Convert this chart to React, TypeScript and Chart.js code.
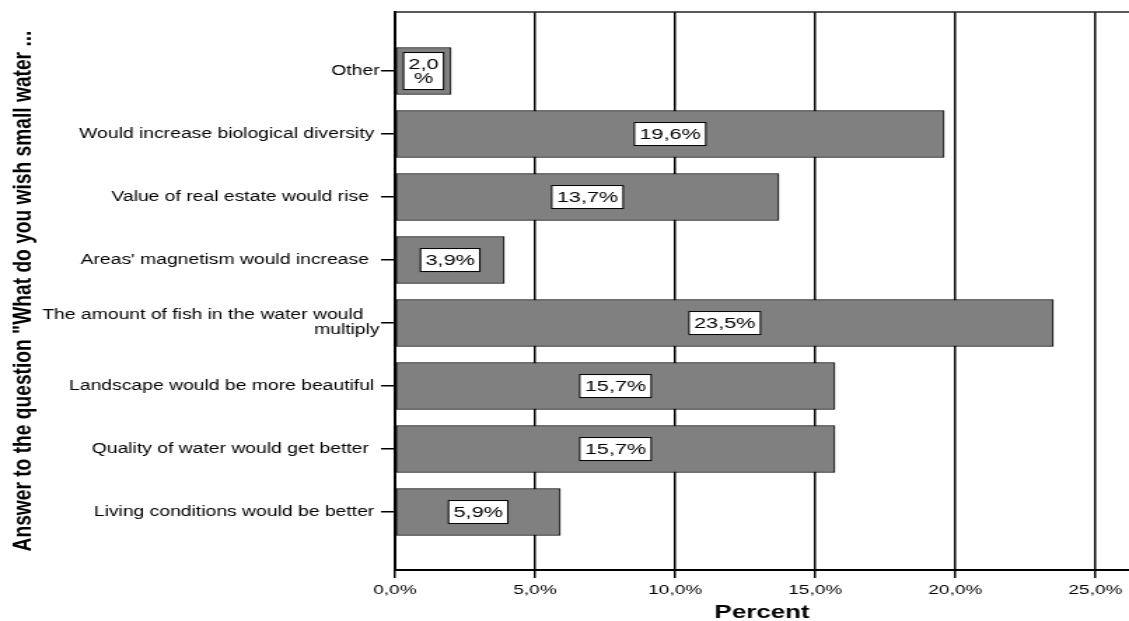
import React, { useEffect, useRef } from 'react';
import { Chart, registerables } from 'chart.js';

Chart.register(...registerables);

// ---- data ----
const categories: (string | string[])[] = [
  'Other',
  'Would increase biological diversity ',
  'Value of real estate would rise  ',
  "Areas' magnetism would increase  ",
  ['The amount of fish in the water would   ', 'multiply'],
  'Landscape would be more beautiful ',
  'Quality of water would get better  ',
  'Living conditions would be better ',
];
const values = [2.0, 19.6, 13.7, 3.9, 23.5, 15.7, 15.7, 5.9];
const xTicks = [0, 5, 10, 15, 20, 25];
const xTitle = 'Percent';
const yTitle = 'Answer to the question "What do you wish small water ...';

// ---- geometry (canvas is drawn narrow and stretched horizontally by CSS) ----
const CSS_W = 1129;
const CANVAS_W = 806;
const H = 621;

const fmt = (v: number) => v.toFixed(1).replace('.', ',');

const labelPlugin = {
  id: 'barLabels',
  afterDatasetsDraw(chart: any) {
    const ctx = chart.ctx as CanvasRenderingContext2D;
    const meta = chart.getDatasetMeta(0);
    ctx.save();
    ctx.font = '15.5px "Liberation Sans", Arial, sans-serif';
    ctx.textAlign = 'center';
    ctx.textBaseline = 'middle';
    meta.data.forEach((bar: any, i: number) => {
      const v = values[i];
      const num = fmt(v);
      const full = num + '%';
      const p = bar.getProps(['x', 'y', 'base'], true);
      const cx = (p.x + p.base) / 2;
      const cy = p.y;
      const barW = Math.abs(p.x - p.base);
      const padX = 3.5;
      const padY = 4.5;
      const lineH = 14;
      let lines = [full];
      if (ctx.measureText(full).width + 2 * padX + 4 > barW) lines = [num, '%'];
      const w = Math.max(...lines.map((l) => ctx.measureText(l).width)) + 2 * padX;
      const h = lines.length * lineH + 2 * padY;
      const x0 = cx - w / 2;
      const y0 = cy - h / 2;
      ctx.fillStyle = '#fff';
      ctx.fillRect(x0, y0, w, h);
      ctx.strokeStyle = '#000';
      ctx.lineWidth = 1;
      ctx.strokeRect(x0, y0, w, h);
      ctx.fillStyle = '#000';
      lines.forEach((l, j) => {
        ctx.fillText(l, cx, cy - ((lines.length - 1) * lineH) / 2 + j * lineH + 1);
      });
    });
    ctx.restore();
  },
};

const topBorderPlugin = {
  id: 'topBorder',
  afterDraw(chart: any) {
    const { ctx, chartArea } = chart;
    ctx.save();
    ctx.strokeStyle = '#222';
    ctx.lineWidth = 1.5;
    ctx.beginPath();
    ctx.moveTo(chartArea.left, chartArea.top);
    ctx.lineTo(chartArea.right, chartArea.top);
    ctx.stroke();
    ctx.restore();
  },
};

export default function App() {
  const ref = useRef<HTMLCanvasElement | null>(null);

  useEffect(() => {
    if (!ref.current) return;
    const chart = new Chart(ref.current, {
      type: 'bar',
      data: {
        datasets: [
          {
            data: values.map((v, i) => ({ x: v, y: i })),
            backgroundColor: '#808080',
            borderColor: '#000',
            borderWidth: 1,
            borderSkipped: false,
            barThickness: 47,
          } as any,
        ],
      },
      plugins: [labelPlugin, topBorderPlugin],
      options: {
        indexAxis: 'y',
        animation: false,
        responsive: false,
        devicePixelRatio: 1,
        layout: { padding: { top: 12, right: 0, left: 0, bottom: 0 } },
        plugins: {
          legend: { display: false },
          tooltip: { enabled: false },
        },
        scales: {
          x: {
            type: 'linear',
            min: 0,
            max: 26.2,
            offset: false,
            afterFit: (s: any) => {
              s.height = 51;
            },
            afterBuildTicks: (s: any) => {
              s.ticks = xTicks.map((v) => ({ value: v }));
            },
            grid: {
              color: '#000',
              lineWidth: 1.5,
              tickLength: 8,
              drawTicks: true,
              offset: false,
            },
            border: { display: true, color: '#000', width: 2 },
            ticks: {
              color: '#000',
              padding: 4,
              maxRotation: 0,
              autoSkip: false,
              font: { family: '"Liberation Sans", Arial, sans-serif', size: 13.5 },
              callback: (v: any) => fmt(Number(v)) + '%',
            },
            title: {
              display: true,
              text: xTitle,
              color: '#000',
              padding: { top: 0, bottom: 0 },
              font: { family: '"Liberation Sans", Arial, sans-serif', size: 18.5, weight: 'bold', lineHeight: 0.86 },
            },
          },
          y: {
            type: 'linear',
            reverse: true,
            min: -0.937,
            max: 7.92,
            offset: false,
            afterFit: (s: any) => {
              s.width = 282;
            },
            afterBuildTicks: (s: any) => {
              s.ticks = categories.map((_, i) => ({ value: i }));
            },
            grid: {
              color: '#000',
              lineWidth: 1.5,
              drawOnChartArea: false,
              drawTicks: true,
              tickLength: 10,
              offset: false,
            },
            border: { display: true, color: '#000', width: 2 },
            ticks: {
              color: '#000',
              padding: 1,
              autoSkip: false,
              font: { family: '"Liberation Sans", Arial, sans-serif', size: 13.8, lineHeight: 1.08 },
              callback: (v: any) => categories[Math.round(Number(v))] as any,
            },
            title: {
              display: true,
              text: yTitle,
              color: '#000',
              padding: { top: 5, bottom: 0 },
              font: { family: '"Liberation Sans", Arial, sans-serif', size: 19.2, weight: 'bold' },
            },
          },
        },
      } as any,
    });
    return () => chart.destroy();
  }, []);

  return (
    <div
      style={{
        position: 'fixed',
        left: 0,
        top: 0,
        width: CSS_W + 'px',
        height: H + 'px',
        background: '#fff',
        overflow: 'hidden',
      }}
    >
      <canvas
        ref={ref}
        width={CANVAS_W}
        height={H}
        style={{ width: CSS_W + 'px', height: H + 'px', display: 'block' }}
      />
    </div>
  );
}
